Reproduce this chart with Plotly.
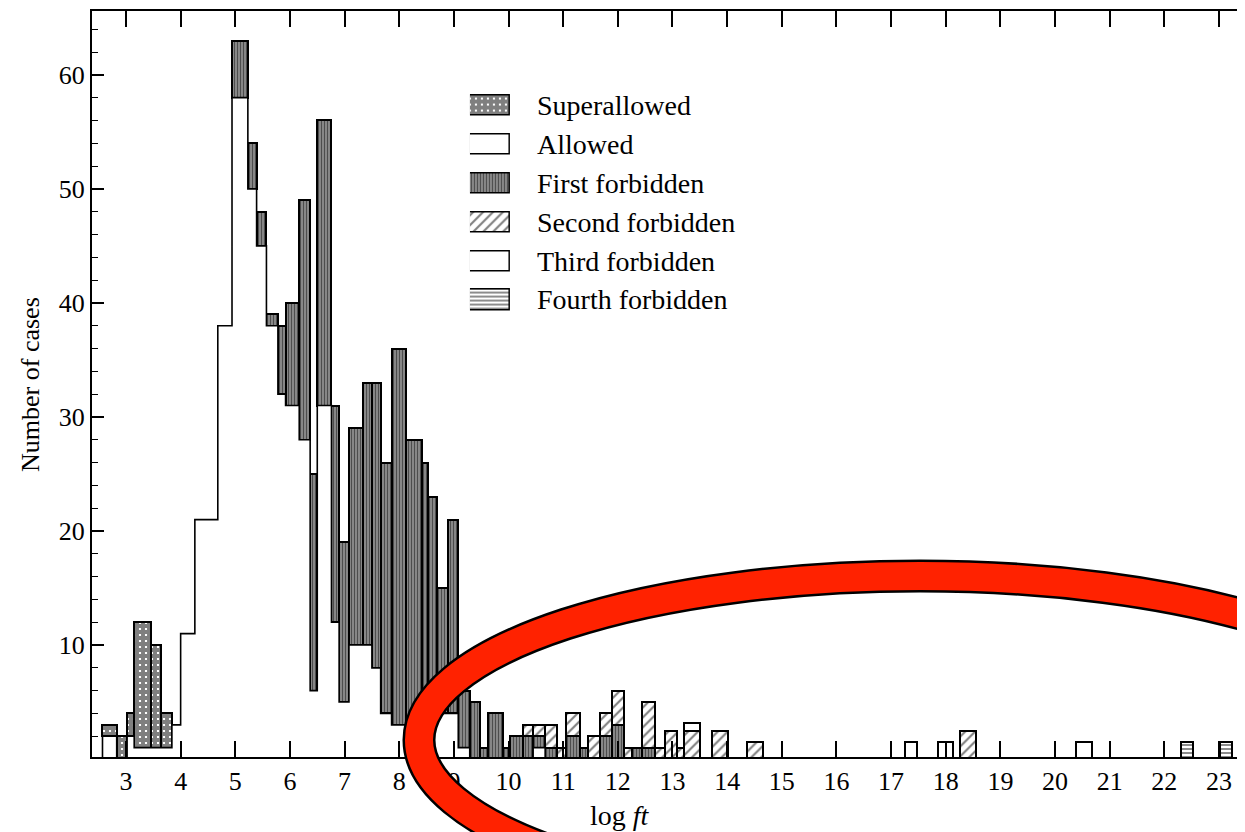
import numpy as np
import plotly.graph_objects as go

# ---------------- data ----------------
bin_lo = [2.57, 2.83, 3.02, 3.15, 3.46, 3.64, 3.84, 4.00, 4.26, 4.68,
          4.94, 5.23, 5.39, 5.57, 5.78, 5.92, 6.17, 6.37, 6.50, 6.76,
          6.90, 7.08, 7.34, 7.50, 7.66, 7.86, 8.12, 8.41, 8.52, 8.69,
          8.90, 9.08, 9.29, 9.48, 9.63, 9.89, 10.03, 10.27, 10.45, 10.67,
          10.88, 11.05, 11.30, 11.46, 11.67, 11.89, 12.11, 12.25, 12.45, 12.68,
          12.86, 13.08, 13.21, 13.72, 14.37, 17.25, 17.85, 18.27, 20.38, 22.30,
          23.02]
bin_hi = [2.83, 3.02, 3.15, 3.46, 3.64, 3.84, 4.00, 4.26, 4.68, 4.94,
          5.23, 5.39, 5.57, 5.78, 5.92, 6.17, 6.37, 6.50, 6.76, 6.90,
          7.08, 7.34, 7.50, 7.66, 7.86, 8.12, 8.41, 8.52, 8.69, 8.90,
          9.08, 9.29, 9.48, 9.63, 9.89, 10.03, 10.27, 10.45, 10.67, 10.88,
          11.05, 11.30, 11.46, 11.67, 11.89, 12.11, 12.25, 12.45, 12.68, 12.86,
          13.08, 13.21, 13.51, 14.01, 14.66, 17.48, 18.13, 18.55, 20.67, 22.53,
          23.23]
allowed = [2, 0, 2, 1, 1, 1, 3, 11, 21, 38,
           58, 50, 45, 38, 32, 31, 28, 6, 31, 12,
           5, 10, 10, 8, 4, 3, 3, 3, 3, 4,
           4, 1, 0, 0, 0, 0, 0, 0, 1, 0,
           0, 0, 0, 0, 0, 0, 0, 0, 0, 0,
           0, 0, 0, 0, 0, 0, 0, 0, 0, 0,
           0]
superallowed = [1, 2, 2, 11, 9, 3, 0, 0, 0, 0,
                0, 0, 0, 0, 0, 0, 0, 0, 0, 0,
                0, 0, 0, 0, 0, 0, 0, 0, 0, 0,
                0, 0, 0, 0, 0, 0, 0, 0, 0, 0,
                0, 0, 0, 0, 0, 0, 0, 0, 0, 0,
                0, 0, 0, 0, 0, 0, 0, 0, 0, 0,
                0]
first_forbidden = [0, 0, 0, 0, 0, 0, 0, 0, 0, 0,
                   5, 4, 3, 1, 6, 9, 21, 19, 25, 19,
                   14, 19, 23, 25, 22, 33, 25, 23, 20, 11,
                   17, 5, 5, 1, 4, 1, 2, 2, 1, 1,
                   0, 2, 1, 0, 2, 3, 0, 1, 1, 0,
                   0, 0, 0, 0, 0, 0, 0, 0, 0, 0,
                   0]
second_forbidden = [0, 0, 0, 0, 0, 0, 0, 0, 0, 0,
                    0, 0, 0, 0, 0, 0, 0, 0, 0, 0,
                    0, 0, 0, 0, 0, 0, 0, 0, 0, 0,
                    0, 0, 0, 0, 0, 0, 0, 1, 1, 2,
                    1, 2, 0, 2, 2, 3, 1, 0, 4, 1,
                    2.5, 1, 2.5, 2.5, 1.5, 0, 0, 2.5, 0, 0,
                    0]
third_forbidden = [0] * 52 + [0.7, 0, 0, 1.5, 1.5, 0, 1.5, 0, 0]
fourth_forbidden = [0] * 59 + [1.5, 1.5]

legend_labels = ["Superallowed", "Allowed", "First forbidden",
                 "Second forbidden", "Third forbidden", "Fourth forbidden"]

# ---------------- figure ----------------
SERIF = "Liberation Serif"
lo = np.array(bin_lo)
hi = np.array(bin_hi)
centers = (lo + hi) / 2
widths = hi - lo

fig = go.Figure()

# Allowed: white step envelope
sx, sy = [lo[0]], [0]
for l, h, a in zip(lo, hi, allowed):
    sx += [l, h]
    sy += [a, a]
sx.append(hi[-1]); sy.append(0)
fig.add_trace(go.Scatter(x=sx, y=sy, mode="lines", fill="tozeroy",
                         fillcolor="white", line=dict(color="black", width=1.6),
                         hoverinfo="skip", showlegend=False))

SUPER_PAT = dict(shape="+", size=6, solidity=0.88, fgcolor="black", bgcolor="white")
FIRST_PAT = dict(shape="|", size=3, solidity=0.5, fgcolor="black", bgcolor="#9a9a9a")
SECOND_PAT = dict(shape="/", size=7, solidity=0.3, fgcolor="black", bgcolor="white")
FOURTH_PAT = dict(shape="-", size=4, solidity=0.45, fgcolor="black", bgcolor="white")

stack = np.array(allowed, dtype=float)
series = [
    (superallowed, SUPER_PAT),
    (first_forbidden, FIRST_PAT),
    (second_forbidden, SECOND_PAT),
    (third_forbidden, dict(shape="", fgcolor="black", bgcolor="white")),
    (fourth_forbidden, FOURTH_PAT),
]
for vals, pat in series:
    v = np.array(vals, dtype=float)
    m = v > 0
    fig.add_trace(go.Bar(
        x=centers[m], y=v[m], base=stack[m], width=widths[m],
        marker=dict(color="white", pattern=pat, line=dict(color="black", width=2)),
        showlegend=False, hoverinfo="skip"))
    stack = stack + v

# custom legend swatches on a helper axis
rows = list(range(len(legend_labels)))
fig.add_trace(go.Bar(
    x=[1] * len(rows), y=rows, base=[0] * len(rows), orientation="h", width=0.52,
    xaxis="x2", yaxis="y2",
    marker=dict(color="white", line=dict(color="black", width=1.5),
                pattern=dict(shape=["+", "", "|", "/", "", "-"],
                             size=[6, 5, 3, 7, 5, 4],
                             solidity=[0.88, 0.3, 0.5, 0.3, 0.3, 0.45],
                             fgcolor="black",
                             bgcolor=["white", "white", "#9a9a9a", "white", "white", "white"])),
    showlegend=False, hoverinfo="skip"))

for i, lab in enumerate(legend_labels):
    fig.add_annotation(x=0.3842, xref="paper", y=i, yref="y2", text=lab,
                       showarrow=False, xanchor="left", yanchor="middle",
                       font=dict(family=SERIF, size=28, color="black"))

fig.add_annotation(x=-0.0538, xref="paper", y=0.5, yref="paper",
                   text="Number of cases", textangle=-90, showarrow=False,
                   xanchor="center", yanchor="middle",
                   font=dict(family=SERIF, size=26, color="black"))
fig.add_annotation(x=0.458, xref="paper", y=-0.078, yref="paper",
                   text="log <i>ft</i>", showarrow=False,
                   xanchor="center", yanchor="middle",
                   font=dict(family=SERIF, size=28, color="black"))

# red hand-drawn ellipse
for col, w in (("black", 33), ("#FF2200", 28)):
    fig.add_shape(type="circle", xref="paper", yref="paper",
                  x0=0.2836, x1=1.1527, y0=-0.197, y1=0.2426,
                  line=dict(color=col, width=w), layer="above")

fig.update_layout(
    width=1237, height=824,
    margin=dict(l=84, r=0, t=3, b=75),
    paper_bgcolor="white", plot_bgcolor="white",
    barmode="overlay", bargap=0,
    font=dict(family=SERIF, color="black"),
    xaxis=dict(range=[2.378, 23.476], tickvals=list(range(3, 24)),
               ticks="inside", ticklen=16, tickwidth=1.5, tickcolor="black",
               showline=True, linewidth=2, linecolor="black", mirror="allticks",
               showgrid=False, zeroline=False,
               tickfont=dict(family=SERIF, size=26, color="black")),
    yaxis=dict(range=[0.18, 65.6], tickvals=[10, 20, 30, 40, 50, 60],
               ticks="inside", ticklen=12, tickwidth=1.5, tickcolor="black",
               minor=dict(dtick=2, ticks="inside", ticklen=6, tickcolor="black", tickwidth=1.2),
               showline=True, linewidth=2, linecolor="black",
               showgrid=False, zeroline=False,
               tickfont=dict(family=SERIF, size=26, color="black")),
    xaxis2=dict(domain=[0.3278, 0.3625], range=[0, 1], anchor="y2",
                visible=False, fixedrange=True),
    yaxis2=dict(domain=[0.5866, 0.8987], range=[5.5, -0.5], anchor="x2",
                visible=False, fixedrange=True),
)

fig.write_html("out.html")
